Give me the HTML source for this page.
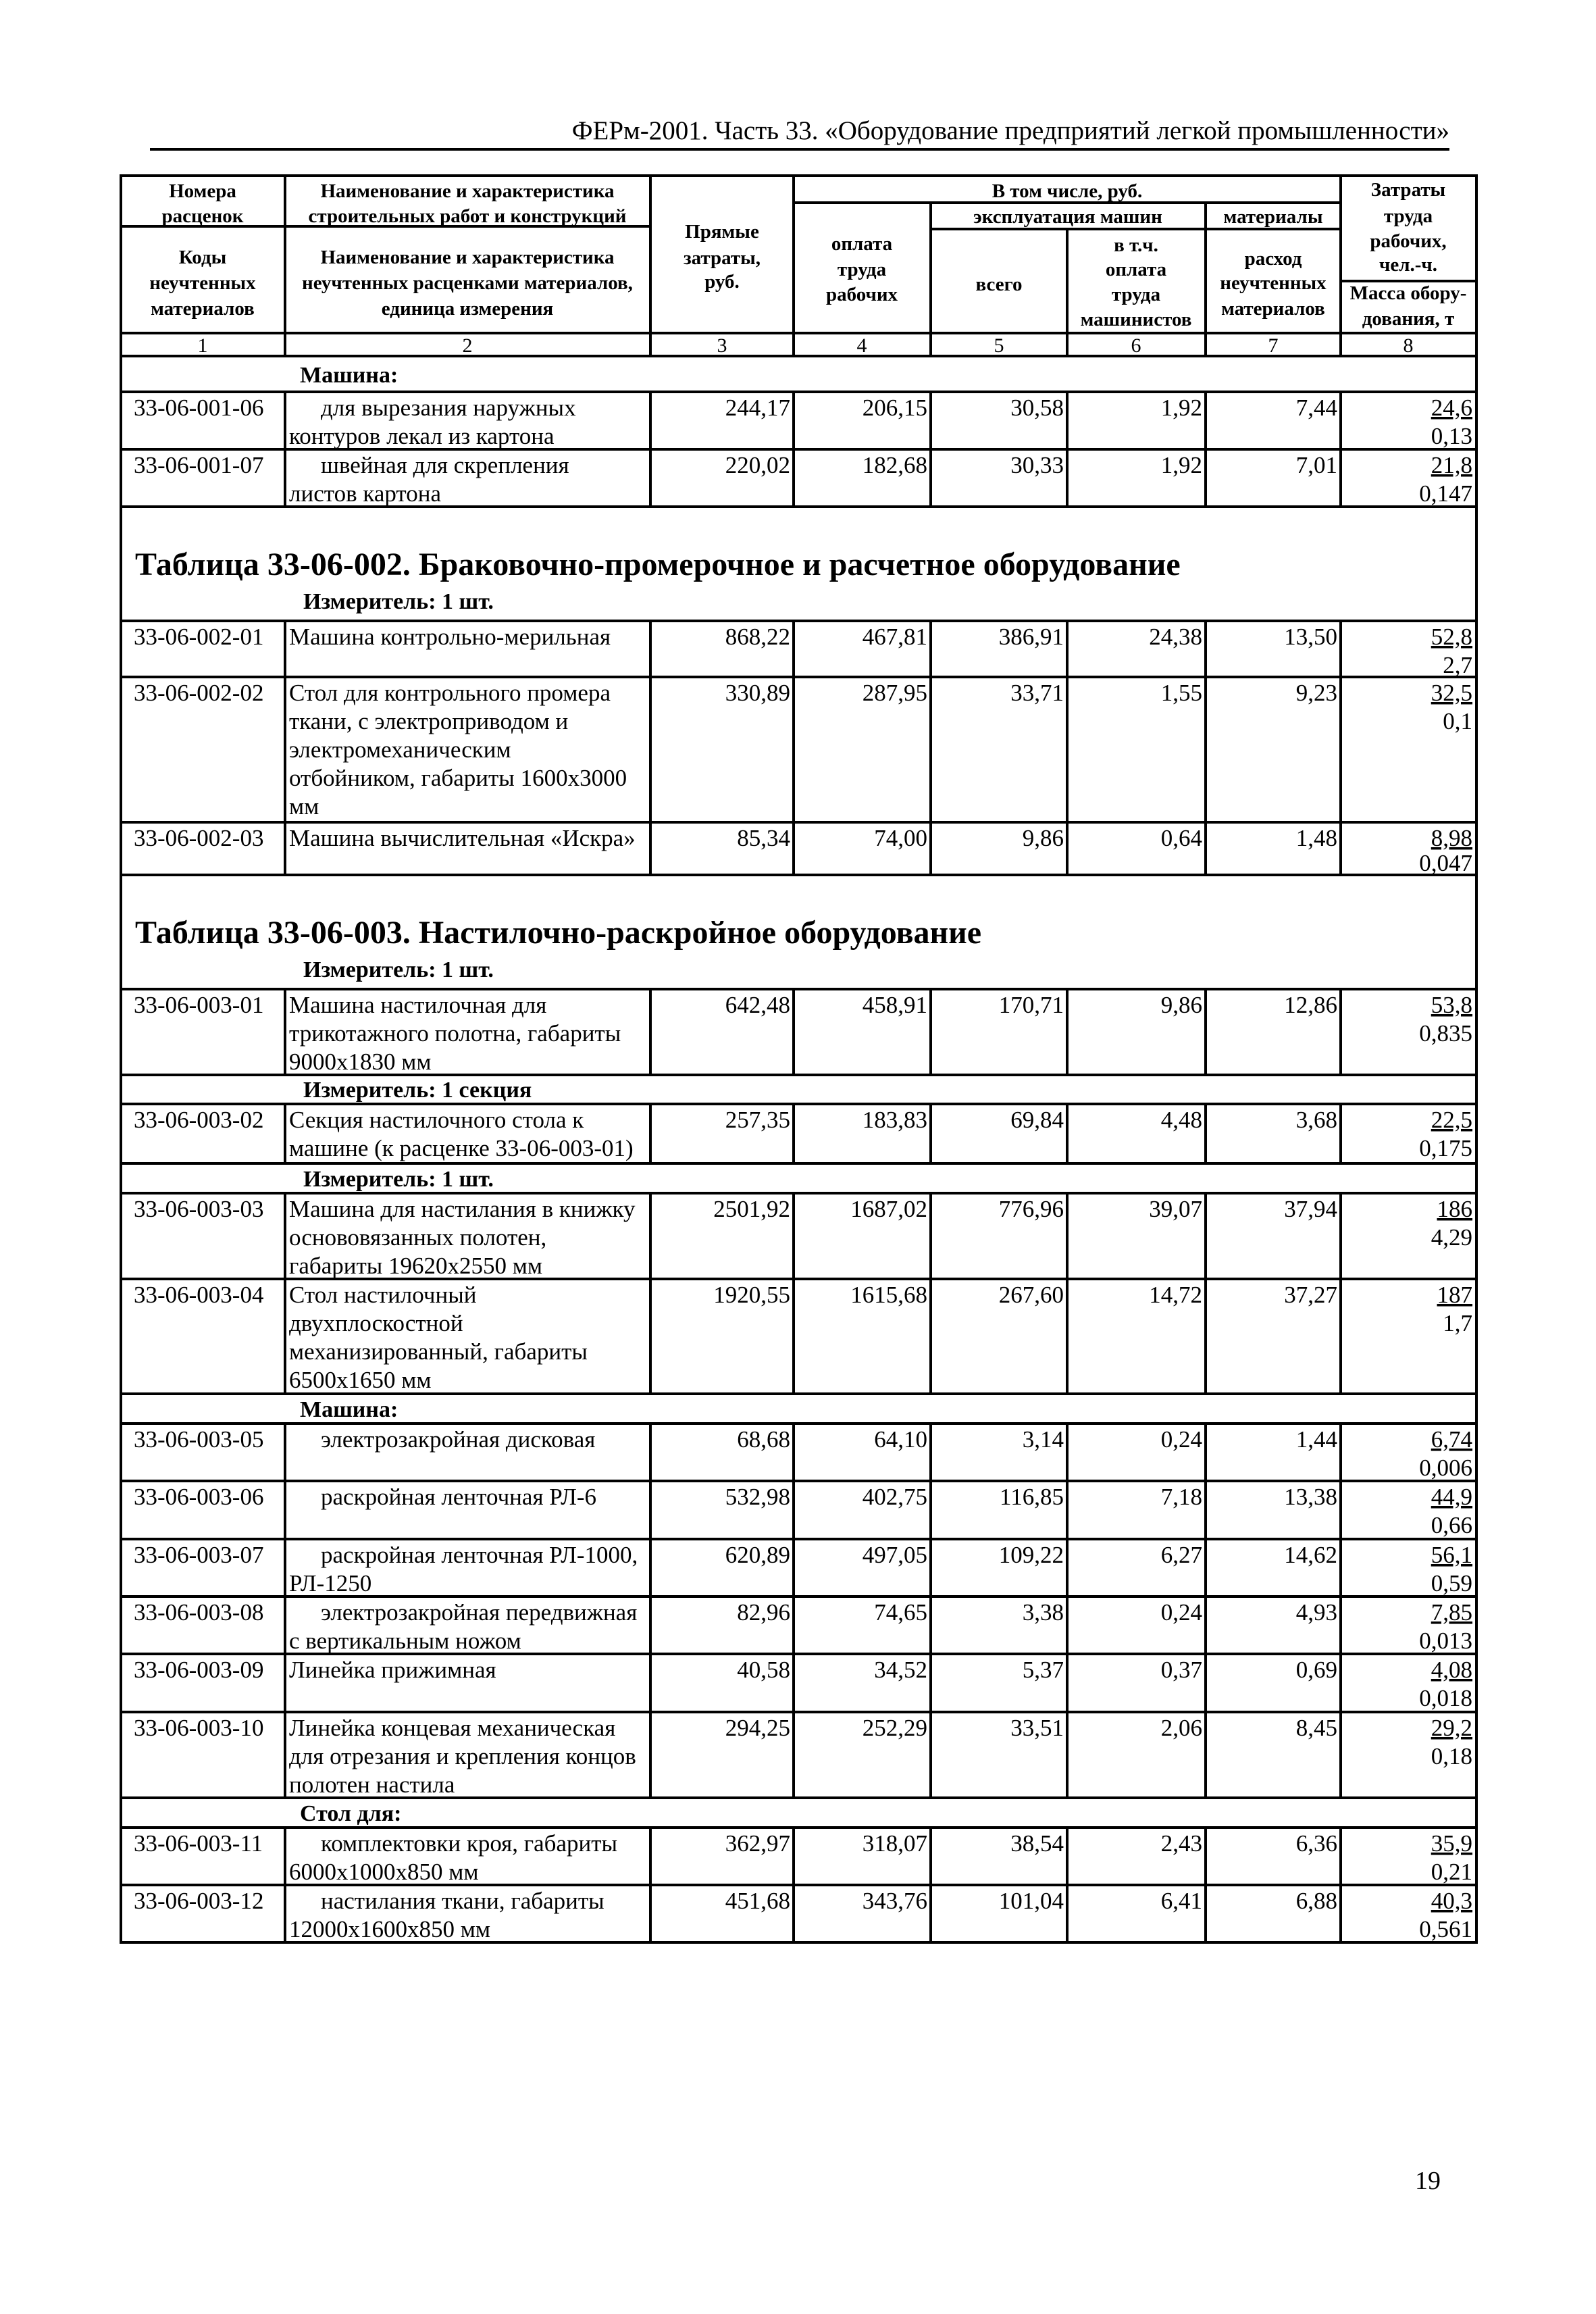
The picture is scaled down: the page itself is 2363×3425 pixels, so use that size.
<!DOCTYPE html>
<html><head><meta charset="utf-8"><style>
html,body{margin:0;padding:0;background:#fff}
svg{display:block}
text{font-family:"Liberation Serif",serif;fill:#000}
.h{font-size:29px;font-weight:bold;text-anchor:middle}
.n{font-size:30px;text-anchor:middle}
.d{font-size:35px}
.r{font-size:35px;text-anchor:end}
.b{font-size:34px;font-weight:bold}
.t{font-size:48px;font-weight:bold}
</style></head><body>
<svg width="2363" height="3425" viewBox="0 0 2363 3425" xmlns="http://www.w3.org/2000/svg">
<text x="2146" y="206" style="font-size:39px;text-anchor:end">ФЕРм-2001. Часть 33. «Оборудование предприятий легкой промышленности»</text>
<line x1="222" y1="221" x2="2146" y2="221" stroke="#000" stroke-width="4"/>
<g stroke="#000" stroke-width="4" fill="none">
<line x1="179" y1="258" x2="179" y2="2877"/>
<line x1="2186" y1="258" x2="2186" y2="2877"/>
<path d="M179 260H2186M179 493H2186M179 527H2186M179 580H2186M179 665H2186M179 750H2186M179 919H2186M179 1002H2186M179 1217H2186M179 1295H2186M179 1464H2186M179 1591H2186M179 1634H2186M179 1722H2186M179 1766H2186M179 1893H2186M179 2063H2186M179 2107H2186M179 2192H2186M179 2278H2186M179 2363H2186M179 2448H2186M179 2534H2186M179 2661H2186M179 2705H2186M179 2790H2186M179 2875H2186"/>
<path d="M1175 300H1985M1378 339H1985M179 335H963M1985 416H2186"/>
<path d="M422 260V527M963 260V527M1175 260V527M1378 300V527M1580 339V527M1785 300V527M1985 260V527"/>
<path d="M422 580V750M963 580V750M1175 580V750M1378 580V750M1580 580V750M1785 580V750M1985 580V750"/>
<path d="M422 919V1295M963 919V1295M1175 919V1295M1378 919V1295M1580 919V1295M1785 919V1295M1985 919V1295"/>
<path d="M422 1464V1591M963 1464V1591M1175 1464V1591M1378 1464V1591M1580 1464V1591M1785 1464V1591M1985 1464V1591"/>
<path d="M422 1634V1722M963 1634V1722M1175 1634V1722M1378 1634V1722M1580 1634V1722M1785 1634V1722M1985 1634V1722"/>
<path d="M422 1766V2063M963 1766V2063M1175 1766V2063M1378 1766V2063M1580 1766V2063M1785 1766V2063M1985 1766V2063"/>
<path d="M422 2107V2661M963 2107V2661M1175 2107V2661M1378 2107V2661M1580 2107V2661M1785 2107V2661M1985 2107V2661"/>
<path d="M422 2705V2875M963 2705V2875M1175 2705V2875M1378 2705V2875M1580 2705V2875M1785 2705V2875M1985 2705V2875"/>
</g>
<!-- header -->
<text class="h" x="300" y="292">Номера</text><text class="h" x="300" y="329">расценок</text>
<text class="h" x="692" y="292">Наименование и характеристика</text><text class="h" x="692" y="329">строительных работ и конструкций</text>
<text class="h" x="300" y="390">Коды</text><text class="h" x="300" y="428">неучтенных</text><text class="h" x="300" y="466">материалов</text>
<text class="h" x="692" y="390">Наименование и характеристика</text><text class="h" x="692" y="428">неучтенных расценками материалов,</text><text class="h" x="692" y="466">единица измерения</text>
<text class="h" x="1069" y="352">Прямые</text><text class="h" x="1069" y="391">затраты,</text><text class="h" x="1069" y="426">руб.</text>
<text class="h" x="1580" y="292">В том числе, руб.</text>
<text class="h" x="1581" y="330">эксплуатация машин</text><text class="h" x="1885" y="330">материалы</text>
<text class="h" x="1276" y="370">оплата</text><text class="h" x="1276" y="408">труда</text><text class="h" x="1276" y="445">рабочих</text>
<text class="h" x="1479" y="430">всего</text>
<text class="h" x="1682" y="372">в т.ч.</text><text class="h" x="1682" y="408">оплата</text><text class="h" x="1682" y="445">труда</text><text class="h" x="1682" y="482">машинистов</text>
<text class="h" x="1885" y="392">расход</text><text class="h" x="1885" y="428">неучтенных</text><text class="h" x="1885" y="466">материалов</text>
<text class="h" x="2085" y="290">Затраты</text><text class="h" x="2085" y="329">труда</text><text class="h" x="2085" y="366">рабочих,</text><text class="h" x="2085" y="401">чел.-ч.</text>
<text class="h" x="2085" y="443">Масса обору-</text><text class="h" x="2085" y="481">дования, т</text>
<text class="n" x="300" y="521">1</text><text class="n" x="692" y="521">2</text><text class="n" x="1069" y="521">3</text><text class="n" x="1276" y="521">4</text><text class="n" x="1479" y="521">5</text><text class="n" x="1682" y="521">6</text><text class="n" x="1885" y="521">7</text><text class="n" x="2085" y="521">8</text>
<text class="b" x="444" y="566">Машина:</text>
<!-- table 1 rows -->
<text class="d" x="198" y="615">33-06-001-06</text><text class="d" x="475" y="615">для вырезания наружных</text><text class="d" x="428" y="657">контуров лекал из картона</text>
<text class="r" x="1170" y="615">244,17</text><text class="r" x="1373" y="615">206,15</text><text class="r" x="1575" y="615">30,58</text><text class="r" x="1780" y="615">1,92</text><text class="r" x="1980" y="615">7,44</text>
<text class="d" x="198" y="700">33-06-001-07</text><text class="d" x="475" y="700">швейная для скрепления</text><text class="d" x="428" y="742">листов картона</text>
<text class="r" x="1170" y="700">220,02</text><text class="r" x="1373" y="700">182,68</text><text class="r" x="1575" y="700">30,33</text><text class="r" x="1780" y="700">1,92</text><text class="r" x="1980" y="700">7,01</text>
<text class="r" x="2180" y="615" text-decoration="underline">24,6</text><text class="r" x="2180" y="657">0,13</text>
<text class="r" x="2180" y="700" text-decoration="underline">21,8</text><text class="r" x="2180" y="742">0,147</text>
<!-- table 2 -->
<text class="t" x="200" y="851">Таблица 33-06-002. Браковочно-промерочное и расчетное оборудование</text>
<text class="b" x="449" y="901">Измеритель: 1 шт.</text>
<text class="d" x="198" y="954">33-06-002-01</text><text class="d" x="428" y="954">Машина контрольно-мерильная</text>
<text class="r" x="1170" y="954">868,22</text><text class="r" x="1373" y="954">467,81</text><text class="r" x="1575" y="954">386,91</text><text class="r" x="1780" y="954">24,38</text><text class="r" x="1980" y="954">13,50</text>
<text class="r" x="2180" y="954" text-decoration="underline">52,8</text><text class="r" x="2180" y="996">2,7</text>
<text class="d" x="198" y="1037">33-06-002-02</text><text class="d" x="428" y="1037">Стол для контрольного промера</text><text class="d" x="428" y="1079">ткани, с электроприводом и</text><text class="d" x="428" y="1121">электромеханическим</text><text class="d" x="428" y="1163">отбойником, габариты 1600х3000</text><text class="d" x="428" y="1205">мм</text>
<text class="r" x="1170" y="1037">330,89</text><text class="r" x="1373" y="1037">287,95</text><text class="r" x="1575" y="1037">33,71</text><text class="r" x="1780" y="1037">1,55</text><text class="r" x="1980" y="1037">9,23</text>
<text class="r" x="2180" y="1037" text-decoration="underline">32,5</text><text class="r" x="2180" y="1079">0,1</text>
<text class="d" x="198" y="1252">33-06-002-03</text><text class="d" x="428" y="1252">Машина вычислительная «Искра»</text>
<text class="r" x="1170" y="1252">85,34</text><text class="r" x="1373" y="1252">74,00</text><text class="r" x="1575" y="1252">9,86</text><text class="r" x="1780" y="1252">0,64</text><text class="r" x="1980" y="1252">1,48</text>
<text class="r" x="2180" y="1252" text-decoration="underline">8,98</text><text class="r" x="2180" y="1289">0,047</text>
<!-- table 3 -->
<text class="t" x="200" y="1396">Таблица 33-06-003. Настилочно-раскройное оборудование</text>
<text class="b" x="449" y="1446">Измеритель: 1 шт.</text>
<text class="d" x="198" y="1499">33-06-003-01</text><text class="d" x="428" y="1499">Машина настилочная для</text><text class="d" x="428" y="1541">трикотажного полотна, габариты</text><text class="d" x="428" y="1583">9000х1830 мм</text>
<text class="r" x="1170" y="1499">642,48</text><text class="r" x="1373" y="1499">458,91</text><text class="r" x="1575" y="1499">170,71</text><text class="r" x="1780" y="1499">9,86</text><text class="r" x="1980" y="1499">12,86</text>
<text class="r" x="2180" y="1499" text-decoration="underline">53,8</text><text class="r" x="2180" y="1541">0,835</text>
<text class="b" x="449" y="1624">Измеритель: 1 секция</text>
<text class="d" x="198" y="1669">33-06-003-02</text><text class="d" x="428" y="1669">Секция настилочного стола к</text><text class="d" x="428" y="1711">машине (к расценке 33-06-003-01)</text>
<text class="r" x="1170" y="1669">257,35</text><text class="r" x="1373" y="1669">183,83</text><text class="r" x="1575" y="1669">69,84</text><text class="r" x="1780" y="1669">4,48</text><text class="r" x="1980" y="1669">3,68</text>
<text class="r" x="2180" y="1669" text-decoration="underline">22,5</text><text class="r" x="2180" y="1711">0,175</text>
<text class="b" x="449" y="1756">Измеритель: 1 шт.</text>
<text class="d" x="198" y="1801">33-06-003-03</text><text class="d" x="428" y="1801">Машина для настилания в книжку</text><text class="d" x="428" y="1843">основовязанных полотен,</text><text class="d" x="428" y="1885">габариты 19620х2550 мм</text>
<text class="r" x="1170" y="1801">2501,92</text><text class="r" x="1373" y="1801">1687,02</text><text class="r" x="1575" y="1801">776,96</text><text class="r" x="1780" y="1801">39,07</text><text class="r" x="1980" y="1801">37,94</text>
<text class="r" x="2180" y="1801" text-decoration="underline">186</text><text class="r" x="2180" y="1843">4,29</text>
<text class="d" x="198" y="1928">33-06-003-04</text><text class="d" x="428" y="1928">Стол настилочный</text><text class="d" x="428" y="1970">двухплоскостной</text><text class="d" x="428" y="2012">механизированный, габариты</text><text class="d" x="428" y="2054">6500х1650 мм</text>
<text class="r" x="1170" y="1928">1920,55</text><text class="r" x="1373" y="1928">1615,68</text><text class="r" x="1575" y="1928">267,60</text><text class="r" x="1780" y="1928">14,72</text><text class="r" x="1980" y="1928">37,27</text>
<text class="r" x="2180" y="1928" text-decoration="underline">187</text><text class="r" x="2180" y="1970">1,7</text>
<text class="b" x="444" y="2097">Машина:</text>
<text class="d" x="198" y="2142">33-06-003-05</text><text class="d" x="475" y="2142">электрозакройная дисковая</text>
<text class="r" x="1170" y="2142">68,68</text><text class="r" x="1373" y="2142">64,10</text><text class="r" x="1575" y="2142">3,14</text><text class="r" x="1780" y="2142">0,24</text><text class="r" x="1980" y="2142">1,44</text>
<text class="r" x="2180" y="2142" text-decoration="underline">6,74</text><text class="r" x="2180" y="2184">0,006</text>
<text class="d" x="198" y="2227">33-06-003-06</text><text class="d" x="475" y="2227">раскройная ленточная РЛ-6</text>
<text class="r" x="1170" y="2227">532,98</text><text class="r" x="1373" y="2227">402,75</text><text class="r" x="1575" y="2227">116,85</text><text class="r" x="1780" y="2227">7,18</text><text class="r" x="1980" y="2227">13,38</text>
<text class="r" x="2180" y="2227" text-decoration="underline">44,9</text><text class="r" x="2180" y="2269">0,66</text>
<text class="d" x="198" y="2313">33-06-003-07</text><text class="d" x="475" y="2313">раскройная ленточная РЛ-1000,</text><text class="d" x="428" y="2355">РЛ-1250</text>
<text class="r" x="1170" y="2313">620,89</text><text class="r" x="1373" y="2313">497,05</text><text class="r" x="1575" y="2313">109,22</text><text class="r" x="1780" y="2313">6,27</text><text class="r" x="1980" y="2313">14,62</text>
<text class="r" x="2180" y="2313" text-decoration="underline">56,1</text><text class="r" x="2180" y="2355">0,59</text>
<text class="d" x="198" y="2398">33-06-003-08</text><text class="d" x="475" y="2398">электрозакройная передвижная</text><text class="d" x="428" y="2440">с вертикальным ножом</text>
<text class="r" x="1170" y="2398">82,96</text><text class="r" x="1373" y="2398">74,65</text><text class="r" x="1575" y="2398">3,38</text><text class="r" x="1780" y="2398">0,24</text><text class="r" x="1980" y="2398">4,93</text>
<text class="r" x="2180" y="2398" text-decoration="underline">7,85</text><text class="r" x="2180" y="2440">0,013</text>
<text class="d" x="198" y="2483">33-06-003-09</text><text class="d" x="428" y="2483">Линейка прижимная</text>
<text class="r" x="1170" y="2483">40,58</text><text class="r" x="1373" y="2483">34,52</text><text class="r" x="1575" y="2483">5,37</text><text class="r" x="1780" y="2483">0,37</text><text class="r" x="1980" y="2483">0,69</text>
<text class="r" x="2180" y="2483" text-decoration="underline">4,08</text><text class="r" x="2180" y="2525">0,018</text>
<text class="d" x="198" y="2569">33-06-003-10</text><text class="d" x="428" y="2569">Линейка концевая механическая</text><text class="d" x="428" y="2611">для отрезания и крепления концов</text><text class="d" x="428" y="2653">полотен настила</text>
<text class="r" x="1170" y="2569">294,25</text><text class="r" x="1373" y="2569">252,29</text><text class="r" x="1575" y="2569">33,51</text><text class="r" x="1780" y="2569">2,06</text><text class="r" x="1980" y="2569">8,45</text>
<text class="r" x="2180" y="2569" text-decoration="underline">29,2</text><text class="r" x="2180" y="2611">0,18</text>
<text class="b" x="444" y="2695">Стол для:</text>
<text class="d" x="198" y="2740">33-06-003-11</text><text class="d" x="475" y="2740">комплектовки кроя, габариты</text><text class="d" x="428" y="2782">6000х1000х850 мм</text>
<text class="r" x="1170" y="2740">362,97</text><text class="r" x="1373" y="2740">318,07</text><text class="r" x="1575" y="2740">38,54</text><text class="r" x="1780" y="2740">2,43</text><text class="r" x="1980" y="2740">6,36</text>
<text class="r" x="2180" y="2740" text-decoration="underline">35,9</text><text class="r" x="2180" y="2782">0,21</text>
<text class="d" x="198" y="2825">33-06-003-12</text><text class="d" x="475" y="2825">настилания ткани, габариты</text><text class="d" x="428" y="2867">12000х1600х850 мм</text>
<text class="r" x="1170" y="2825">451,68</text><text class="r" x="1373" y="2825">343,76</text><text class="r" x="1575" y="2825">101,04</text><text class="r" x="1780" y="2825">6,41</text><text class="r" x="1980" y="2825">6,88</text>
<text class="r" x="2180" y="2825" text-decoration="underline">40,3</text><text class="r" x="2180" y="2867">0,561</text>
<text x="2114" y="3240" style="font-size:38px;text-anchor:middle">19</text>
</svg>
</body></html>
